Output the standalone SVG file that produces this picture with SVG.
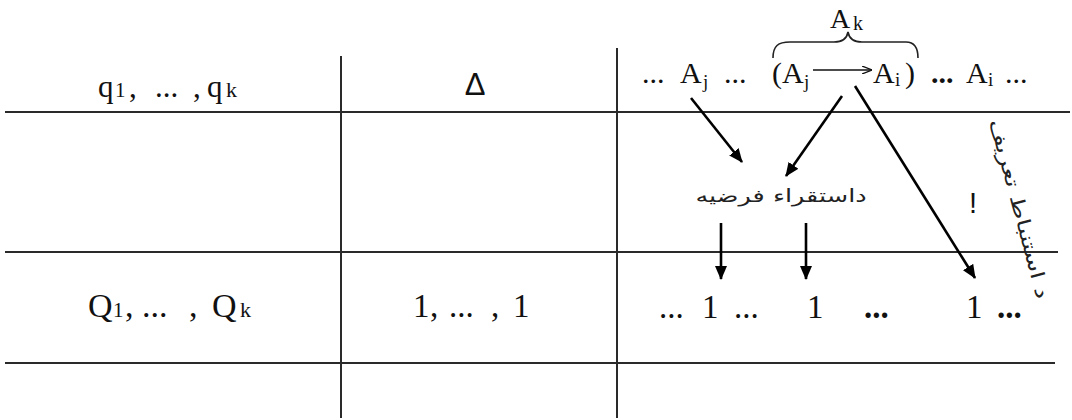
<svg xmlns="http://www.w3.org/2000/svg" width="1072" height="420" viewBox="0 0 1072 420">
  <style>
    .grid { stroke: #2a2a2a; stroke-width: 2; fill: none; }
    .arrow { stroke: #000; stroke-width: 2.6; fill: none; marker-end: url(#head); }
    .math { font-family: "Liberation Serif", "DejaVu Serif", serif; fill: #111; }
    .sans { font-family: "Liberation Sans", Arial, sans-serif; fill: #111; }
    .fa { font-family: "DejaVu Sans", "Noto Sans", sans-serif; fill: #222; }
  </style>
  <defs>
    <marker id="head" viewBox="0 0 14 12" refX="13" refY="6" markerWidth="14" markerHeight="12" markerUnits="userSpaceOnUse" orient="auto">
      <path d="M0,0 L14,6 L0,12 Z" fill="#000"/>
    </marker>
    <marker id="thin" viewBox="0 0 10 8" refX="10" refY="4" markerWidth="10" markerHeight="8" markerUnits="userSpaceOnUse" orient="auto">
      <path d="M0,0 L10,4 L0,8" fill="none" stroke="#111" stroke-width="1.3"/>
    </marker>
  </defs>

  <!-- table rules -->
  <g id="table">
    <line class="grid" x1="5" y1="112" x2="1070" y2="112"/>
    <line class="grid" x1="5" y1="252" x2="1058" y2="252"/>
    <line class="grid" x1="5" y1="363" x2="1055" y2="363"/>
    <line class="grid" x1="341" y1="56" x2="341" y2="418"/>
    <line class="grid" x1="617" y1="48" x2="617" y2="418"/>
  </g>

  <!-- header row -->
  <g id="cell-q">
    <text class="math" font-size="31" y="97">
      <tspan x="98">q</tspan><tspan x="115" font-size="21">1</tspan><tspan x="129">,</tspan><tspan x="155">...</tspan><tspan x="193">,</tspan><tspan x="207">q</tspan><tspan x="226" font-size="22">k</tspan>
    </text>
  </g>
  <g id="cell-delta">
    <text class="sans" font-size="31" x="475" y="95" text-anchor="middle">Δ</text>
  </g>
  <g id="cell-a">
    <text class="math" font-size="30" y="83">
      <tspan x="642">...</tspan>
      <tspan x="680">A</tspan><tspan x="703" dy="5" font-size="19">j</tspan>
      <tspan x="724" dy="-5">...</tspan>
      <tspan x="772">(</tspan><tspan x="782">A</tspan><tspan x="804" dy="5" font-size="19">j</tspan>
      <tspan x="873" dy="-5">A</tspan><tspan x="895" dy="3" font-size="19">i</tspan>
      <tspan x="905" dy="-3">)</tspan>
      <tspan x="931" font-weight="bold">...</tspan>
      <tspan x="966">A</tspan><tspan x="988" dy="3" font-size="19">i</tspan>
      <tspan x="1005" dy="-3">...</tspan>
    </text>
    <line x1="813" y1="70" x2="872" y2="70" stroke="#111" stroke-width="1.4" marker-end="url(#thin)"/>
  </g>
  <g id="brace-ak">
    <path d="M773,58 C773,46 778,42 790,42 L834,42 C843,42 847,38 848,32 C849,38 853,42 862,42 L906,42 C914,42 918,47 918,58" fill="none" stroke="#222" stroke-width="1.6"/>
    <text class="math" font-size="28" y="28"><tspan x="830">A</tspan><tspan x="853" dy="2" font-size="20">k</tspan></text>
  </g>

  <!-- value row -->
  <g id="cell-Q">
    <text class="math" font-size="34" y="317">
      <tspan x="88">Q</tspan><tspan x="113" font-size="21">1</tspan><tspan x="125">,</tspan><tspan x="142">...</tspan><tspan x="189">,</tspan><tspan x="212">Q</tspan><tspan x="240" font-size="22">k</tspan>
    </text>
  </g>
  <g id="cell-ones">
    <text class="math" font-size="33" y="317">
      <tspan x="413">1</tspan><tspan x="430">,</tspan><tspan x="449">...</tspan><tspan x="491">,</tspan><tspan x="513">1</tspan>
    </text>
  </g>
  <g id="cell-values">
    <text class="math" font-size="33" y="318">
      <tspan x="659">...</tspan><tspan x="702">1</tspan><tspan x="734">...</tspan>
      <tspan x="807">1</tspan>
      <tspan x="864" font-weight="bold">...</tspan>
      <tspan x="966">1</tspan><tspan x="997" font-weight="bold">...</tspan>
    </text>
  </g>

  <!-- labels (Persian text drawn a little wide, like a Tahoma face) -->
  <g id="label-induction">
    <text class="fa" font-size="18" transform="translate(781,202) scale(1.42,1)" x="0" y="0" text-anchor="middle" direction="rtl">داستقراء فرضیه</text>
  </g>
  <g id="label-bang">
    <text class="sans" font-size="29" x="973" y="213" text-anchor="middle">!</text>
  </g>
  <g id="label-deduction">
    <text class="fa" font-size="19" transform="translate(1019,209) rotate(75) scale(1.4,1)" x="0" y="6" text-anchor="middle" direction="rtl">د استنباط تعریف</text>
  </g>

  <!-- connectors -->
  <g id="connectors">
    <line class="arrow" x1="691" y1="98" x2="742" y2="162"/>
    <line class="arrow" x1="842" y1="96" x2="786" y2="176"/>
    <line class="arrow" x1="855" y1="86" x2="975" y2="278"/>
    <line class="arrow" x1="721" y1="223" x2="721" y2="279"/>
    <line class="arrow" x1="806" y1="223" x2="806" y2="279"/>
  </g>
</svg>
